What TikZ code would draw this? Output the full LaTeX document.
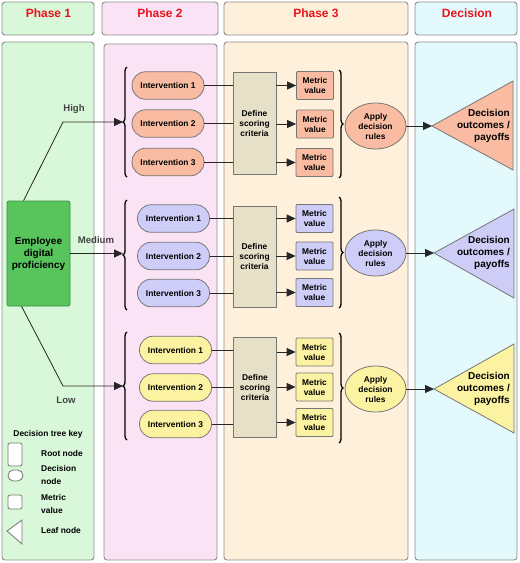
\documentclass[tikz,border=0pt]{standalone}
\usepackage{fontspec}
\setmainfont{Liberation Sans}
\usetikzlibrary{shapes.geometric,arrows.meta,decorations.pathreplacing,calc}
\definecolor{gborder}{HTML}{8C8C8C}
\definecolor{nborder}{HTML}{767676}
\definecolor{hred}{HTML}{E8141B}
\definecolor{pone}{HTML}{D9F8DA}
\definecolor{ptwo}{HTML}{FBE3F6}
\definecolor{pthree}{HTML}{FFF0DB}
\definecolor{pdec}{HTML}{E3F9FB}
\definecolor{rootg}{HTML}{57C45C}
\definecolor{rootb}{HTML}{3D8E42}
\definecolor{hic}{HTML}{F9BCA2}
\definecolor{mec}{HTML}{CDCDF8}
\definecolor{loc}{HTML}{FBF3A1}
\definecolor{defc}{HTML}{E6E0C8}
\definecolor{lblc}{HTML}{444444}
\begin{document}
\begin{tikzpicture}[x=1pt,y=-1pt,
  panel/.style={draw=gborder, line width=0.9pt, rounded corners=3pt},
  hdr/.style={font=\bfseries\fontsize{12}{14}\selectfont, text=hred, inner sep=0pt},
  interv/.style={draw=nborder, line width=0.8pt, rounded corners=13.5pt, minimum width=72pt, minimum height=27.5pt, inner sep=0pt, font=\bfseries\fontsize{8.4}{10}\selectfont},
  metric/.style={draw=nborder, line width=0.8pt, rectangle, rounded corners=1pt, minimum width=37pt, minimum height=28pt, inner sep=0pt, align=center, font=\bfseries\fontsize{8.4}{10}\selectfont},
  defbox/.style={draw=nborder, line width=0.8pt, fill=defc, minimum width=43pt, minimum height=102pt, inner sep=0pt, align=center, font=\bfseries\fontsize{8.4}{10}\selectfont},
  rules/.style={ellipse, draw=nborder, line width=0.8pt, minimum width=61pt, minimum height=46pt, inner sep=0pt, align=center, font=\bfseries\fontsize{8.4}{10}\selectfont},
  leaftxt/.style={anchor=east, align=right, inner sep=0pt, font=\bfseries\fontsize{10}{12}\selectfont},
  branchlbl/.style={text=lblc, inner sep=0pt, font=\bfseries\fontsize{9.6}{11}\selectfont},
  keytxt/.style={anchor=west, align=left, inner sep=0pt, font=\bfseries\fontsize{8.4}{12.5}\selectfont},
  keyshape/.style={draw=nborder, line width=0.8pt, fill=white},
  conn/.style={line width=0.8pt, draw=black!85},
  arr/.style={conn, -{Triangle[length=9pt,width=8pt]}},
  brc/.style={decorate, decoration={brace, amplitude=4pt}, line width=1.3pt},
  tri/.style={draw=nborder, line width=0.8pt}
]
\useasboundingbox (0,0) rectangle (520,563);
% header panels
\draw[panel, fill=pone] (2,2) rectangle (94,35);
\draw[panel, fill=ptwo] (102,2) rectangle (218,35);
\draw[panel, fill=pthree] (224,2) rectangle (408,35);
\draw[panel, fill=pdec] (415,2) rectangle (517,35);
\node[hdr] (h1) at (48.5,13) {Phase 1};
\node[hdr] (h2) at (160,13) {Phase 2};
\node[hdr] (h3) at (316,13) {Phase 3};
\node[hdr] (h4) at (467,13) {Decision};
% body panels
\draw[panel, fill=pone] (2,42) rectangle (94,560);
\draw[panel, fill=ptwo] (104,44) rectangle (217,560);
\draw[panel, fill=pthree] (224,42) rectangle (408,560);
\draw[panel, fill=pdec] (415,42) rectangle (517,560);

% root
\node[draw=rootb, fill=rootg, line width=0.8pt, rounded corners=2pt, minimum width=63pt, minimum height=105pt, inner sep=0pt, align=center, font=\bfseries\fontsize{10}{12}\selectfont] (root) at (38.5,253.5) {Employee\\digital\\proficiency};

% brace tips
\coordinate (bH) at (123,122);
\coordinate (bM) at (123,255);
\coordinate (bL) at (123,386);
\coordinate (kH) at (63,122);
\coordinate (kL) at (63,386);
\draw[brc] (127,177) -- (127,67);
\draw[brc] (127,310) -- (127,200);
\draw[brc] (127,440) -- (127,332);

\draw[arr] ([xshift=17pt]root.north west) -- (kH) -- (bH);
\draw[arr] (root.east) -- (root.east -| bM);
\draw[arr] ([xshift=15pt]root.south west) -- (kL) -- (bL);
\node[branchlbl] (lh) at (74,109) {High};
\node[branchlbl] (lm) at (96,240) {Medium};
\node[branchlbl] (ll) at (66,400) {Low};

% ---------- High row
\node[interv, fill=hic] (hi1) at (168,85.5) {Intervention 1};
\node[interv, fill=hic] (hi2) at (168,123.5) {Intervention 2};
\node[interv, fill=hic] (hi3) at (168,162) {Intervention 3};
\node[defbox] (hd) at (254.5,123.5) {Define\\scoring\\criteria};
\node[metric, fill=hic] (hm1) at (315,85.5) {Metric\\value};
\node[metric, fill=hic] (hm2) at (315,124) {Metric\\value};
\node[metric, fill=hic] (hm3) at (314.5,162.5) {Metric\\value};
\foreach \i in {1,2,3} {
  \draw[conn] (hi\i.east) -- (hi\i.east -| hd.west);
  \draw[arr] (hm\i.west -| hd.east) -- (hm\i.west);
}
\draw[brc] (339,70) -- (339,178);
\node[rules, fill=hic] (hr) at (375.5,126) {Apply\\decision\\rules};
\coordinate (ht) at (432,126);
\draw[tri, fill=hic] (ht) -- (513,81) -- (513,170) -- cycle;
\draw[arr] (hr.east) -- (ht);
\node[leaftxt] (hlt) at (510,126) {Decision\\outcomes /\\payoffs};

% ---------- Medium row
\node[interv, fill=mec] (mi1) at (173.5,218.5) {Intervention 1};
\node[interv, fill=mec] (mi2) at (173.5,256) {Intervention 2};
\node[interv, fill=mec] (mi3) at (173.5,293) {Intervention 3};
\node[defbox, minimum height=101pt] (md) at (254.5,256.5) {Define\\scoring\\criteria};
\node[metric, fill=mec] (mm1) at (314.5,218.5) {Metric\\value};
\node[metric, fill=mec] (mm2) at (314.5,256) {Metric\\value};
\node[metric, fill=mec] (mm3) at (314.5,292.5) {Metric\\value};
\foreach \i in {1,2,3} {
  \draw[conn] (mi\i.east) -- (mi\i.east -| md.west);
  \draw[arr] (mm\i.west -| md.east) -- (mm\i.west);
}
\draw[brc] (339,197) -- (339,308);
\node[rules, fill=mec] (mr) at (375.5,253) {Apply\\decision\\rules};
\coordinate (mt) at (434,253);
\draw[tri, fill=mec] (mt) -- (514,209) -- (514,298) -- cycle;
\draw[arr] (mr.east) -- (mt);
\node[leaftxt] (mlt) at (510,253) {Decision\\outcomes /\\payoffs};

% ---------- Low row
\node[interv, fill=loc] (li1) at (175.5,350) {Intervention 1};
\node[interv, fill=loc] (li2) at (175.5,387.5) {Intervention 2};
\node[interv, fill=loc] (li3) at (175.5,424) {Intervention 3};
\node[defbox, minimum height=100pt] (ld) at (255,387) {Define\\scoring\\criteria};
\node[metric, fill=loc] (lm1) at (314.5,352) {Metric\\value};
\node[metric, fill=loc] (lm2) at (314.5,387) {Metric\\value};
\node[metric, fill=loc] (lm3) at (314.5,422.5) {Metric\\value};
\foreach \i in {1,2,3} {
  \draw[conn] (li\i.east) -- (li\i.east -| ld.west);
  \draw[arr] (lm\i.west -| ld.east) -- (lm\i.west);
}
\draw[brc] (339,333) -- (339,443);
\node[rules, fill=loc] (lr) at (375.5,389) {Apply\\decision\\rules};
\coordinate (lt) at (434,389);
\draw[tri, fill=loc] (lt) -- (514,344) -- (514,433) -- cycle;
\draw[arr] (lr.east) -- (lt);
\node[leaftxt] (llt) at (510,389) {Decision\\outcomes /\\payoffs};

% ---------- key
\node[inner sep=0pt, font=\bfseries\fontsize{8.4}{10}\selectfont] (keyt) at (48,434) {Decision tree key};
\node[keyshape, rounded corners=2pt, minimum width=14pt, minimum height=23pt, inner sep=0pt] (kroot) at (15,454.5) {};
\node[keytxt] (kroott) at (41,453) {Root node};
\node[keyshape, rounded corners=5.5pt, minimum width=15pt, minimum height=11pt, inner sep=0pt] (kdec) at (15.5,475.5) {};
\node[keytxt] (kdect) at (41,475) {Decision\\node};
\node[keyshape, rounded corners=2pt, minimum width=14pt, minimum height=14pt, inner sep=0pt] (kmet) at (15,502) {};
\node[keytxt] (kmett) at (41,504) {Metric\\value};
\coordinate (kleaf) at (7,531);
\draw[keyshape] (kleaf) -- (22,520) -- (22,544) -- cycle;
\node[keytxt] (kleaft) at (41,530) {Leaf node};
\end{tikzpicture}
\end{document}
